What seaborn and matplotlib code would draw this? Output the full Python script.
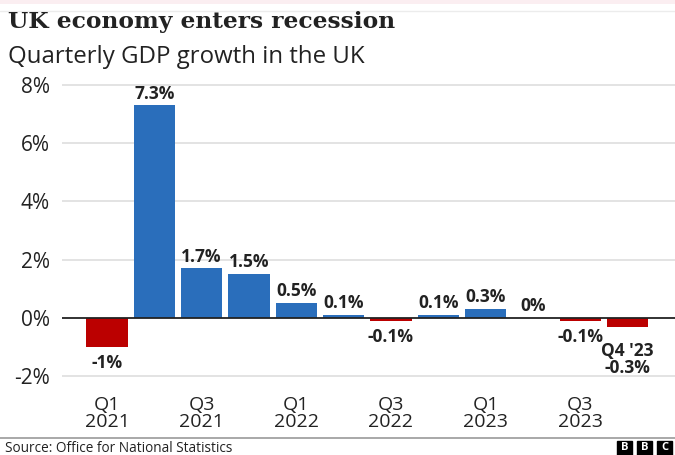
import matplotlib
matplotlib.use("Agg")
import matplotlib.pyplot as plt
import seaborn as sns
import pandas as pd
from matplotlib.patches import Rectangle
from matplotlib.lines import Line2D

quarters = ["Q1 2021", "Q2 2021", "Q3 2021", "Q4 2021",
            "Q1 2022", "Q2 2022", "Q3 2022", "Q4 2022",
            "Q1 2023", "Q2 2023", "Q3 2023", "Q4 2023"]
growth = [-1.0, 7.3, 1.7, 1.5, 0.5, 0.1, -0.1, 0.1, 0.3, 0.0, -0.1, -0.3]
value_labels = ["-1%", "7.3%", "1.7%", "1.5%", "0.5%", "0.1%", "-0.1%",
                "0.1%", "0.3%", "0%", "-0.1%", "Q4 '23\n-0.3%"]
tick_labels = ["Q1\n2021", "", "Q3\n2021", "", "Q1\n2022", "", "Q3\n2022", "",
               "Q1\n2023", "", "Q3\n2023", ""]
y_ticks = [-2, 0, 2, 4, 6, 8]
y_tick_labels = ["-2%", "0%", "2%", "4%", "6%", "8%"]

BLUE = "#2a6ebb"
RED = "#bb0000"

df = pd.DataFrame({"quarter": quarters, "growth": growth})
df["sign"] = ["neg" if v < 0 else "pos" for v in growth]

sns.set_style("white")
plt.rcParams["font.family"] = ["Open Sans", "DejaVu Sans"]

fig = plt.figure(figsize=(6.75, 4.55), dpi=100)
ax = fig.add_axes([0.0919, 0.164, 0.9081, 0.6525])

sns.barplot(data=df, x="quarter", y="growth", hue="sign",
            palette={"pos": BLUE, "neg": RED}, dodge=False, legend=False,
            width=0.88, saturation=1, ax=ax, zorder=3, linewidth=0)

ax.set_xlim(-0.95, 12.0)
ax.set_ylim(-2.15, 8.05)
ax.set_yticks(y_ticks)
ax.set_yticklabels(y_tick_labels)
for y in y_ticks:
    if y != 0:
        ax.axhline(y, color="#e3e3e3", lw=1.4, zorder=1)
ax.axhline(0, color="#222222", lw=1.3, zorder=4)

for s in ax.spines.values():
    s.set_visible(False)

ax.set_xticks(range(len(quarters)))
ax.set_xticklabels(tick_labels)
ax.set_xlabel("")
ax.set_ylabel("")
ax.tick_params(axis="y", length=0, pad=9, labelsize=15, colors="#222222")
ax.tick_params(axis="x", length=6, width=1, color="#aaaaaa", pad=5,
               labelsize=14, labelcolor="#222222")
for i, t in enumerate(ax.xaxis.get_major_ticks()):
    if tick_labels[i] == "":
        t.tick1line.set_visible(False)
for lbl in ax.get_xticklabels():
    lbl.set_linespacing(0.95)

for i, (v, lab) in enumerate(zip(growth, value_labels)):
    if v >= 0:
        ax.annotate(lab, (i, v), xytext=(0, 2), textcoords="offset points",
                    ha="center", va="bottom", fontsize=12.5, fontweight="bold",
                    color="#222222", zorder=5)
    else:
        off = -11 if "\n" in lab else -5
        ax.annotate(lab, (i, v), xytext=(0, off), textcoords="offset points",
                    ha="center", va="top", fontsize=12.5, fontweight="bold",
                    color="#222222", linespacing=0.95, zorder=5)

# faint screenshot band at the top
fig.add_artist(Rectangle((0, 1 - 4 / 455), 1, 4 / 455, transform=fig.transFigure,
                         color="#fbeef1", lw=0))
fig.add_artist(Line2D([0, 1], [1 - 10.5 / 455] * 2, transform=fig.transFigure,
                      color="#ececec", lw=1.0))

# Titles
fig.text(0.012, 0.952, "UK economy enters recession", fontsize=16.8,
         fontweight="bold", family=["DejaVu Serif"], color="#222222",
         ha="left", va="center")
fig.text(0.012, 0.874, "Quarterly GDP growth in the UK", fontsize=17.3,
         color="#222222", ha="left", va="center")

# Footer line and source
fig.add_artist(Line2D([0, 1], [0.037, 0.037], transform=fig.transFigure,
                      color="#999999", lw=1.2))
fig.text(0.007, 7 / 455, "Source: Office for National Statistics", fontsize=9.8,
         color="#222222", ha="left", va="center")

# BBC blocks
for k, ch in enumerate("BBC"):
    x0 = (617 + k * 20) / 675
    fig.add_artist(Rectangle((x0, 0.0), 15 / 675, 14 / 455,
                             transform=fig.transFigure, color="black"))
    fig.text(x0 + 7.5 / 675, 7 / 455, ch, color="white", fontsize=8,
             fontweight="bold", ha="center", va="center")

fig.savefig("out.png", dpi=100)
